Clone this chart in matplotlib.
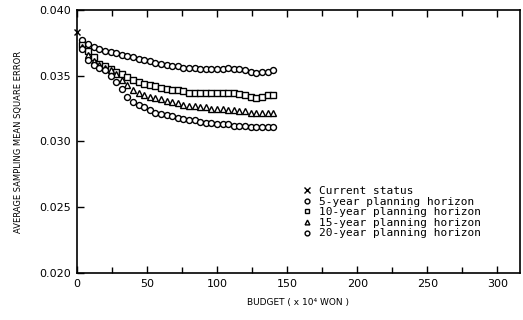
import matplotlib
matplotlib.use('Agg')
import matplotlib.pyplot as plt
from matplotlib.ticker import MultipleLocator

# budget (x 10^4 won) shared by all planning horizons
budget = [4, 8, 12, 16, 20, 24, 28, 32, 36, 40, 44, 48, 52, 56, 60, 64, 68, 72,
          76, 80, 84, 88, 92, 96, 100, 104, 108, 112, 116, 120, 124, 128, 132, 136, 140]

current_x = [0]
current_y = [0.0383]

err_5yr = [0.0377, 0.0374, 0.0372, 0.0370, 0.0369, 0.0368, 0.0367, 0.0366, 0.0365, 0.0364,
           0.0363, 0.0362, 0.0361, 0.0360, 0.0359, 0.0358, 0.0357, 0.0357, 0.0356, 0.0356,
           0.0356, 0.0355, 0.0355, 0.0355, 0.0355, 0.0355, 0.0356, 0.0355, 0.0355, 0.0354,
           0.0353, 0.0352, 0.0353, 0.0353, 0.0354]
err_10yr = [0.0373, 0.0369, 0.0364, 0.0359, 0.0357, 0.0355, 0.0353, 0.0351, 0.0349, 0.0347,
            0.0345, 0.0344, 0.0343, 0.0342, 0.0341, 0.0340, 0.0339, 0.0339, 0.0338, 0.0337,
            0.0337, 0.0337, 0.0337, 0.0337, 0.0337, 0.0337, 0.0337, 0.0337, 0.0336, 0.0335,
            0.0334, 0.0333, 0.0334, 0.0335, 0.0335]
err_15yr = [0.0372, 0.0366, 0.0361, 0.0358, 0.0356, 0.0354, 0.0351, 0.0347, 0.0343, 0.0339,
            0.0337, 0.0335, 0.0334, 0.0333, 0.0332, 0.0331, 0.0330, 0.0329, 0.0328, 0.0327,
            0.0327, 0.0326, 0.0326, 0.0325, 0.0325, 0.0325, 0.0324, 0.0324, 0.0323, 0.0323,
            0.0322, 0.0322, 0.0322, 0.0322, 0.0322]
err_20yr = [0.0370, 0.0362, 0.0358, 0.0356, 0.0354, 0.0350, 0.0345, 0.0340, 0.0334, 0.0330,
            0.0328, 0.0326, 0.0324, 0.0322, 0.0321, 0.0320, 0.0319, 0.0318, 0.0317, 0.0316,
            0.0316, 0.0315, 0.0314, 0.0314, 0.0313, 0.0313, 0.0313, 0.0312, 0.0312, 0.0312,
            0.0311, 0.0311, 0.0311, 0.0311, 0.0311]

labels = ['Current status', '5-year planning horizon', '10-year planning horizon',
          '15-year planning horizon', '20-year planning horizon']

fig = plt.figure(figsize=(5.23, 3.20), dpi=100)
ax = fig.add_axes([0.147, 0.147, 0.847, 0.822])

mk = dict(linestyle='none', markerfacecolor='white', markeredgecolor='black',
          markeredgewidth=1.0, markersize=4.3)
ax.plot(current_x, current_y, marker='x', color='black', linestyle='none',
        markersize=5, label=labels[0], clip_on=False, zorder=5)
ax.plot(budget, err_5yr, marker='o', label=labels[1], **mk)
ax.plot(budget, err_10yr, marker='s', label=labels[2], **mk)
ax.plot(budget, err_15yr, marker='^', label=labels[3], **mk)
ax.plot(budget, err_20yr, marker='o', label=labels[4], **mk)

ax.set_xlim(0, 316)
ax.set_ylim(0.020, 0.040)
ax.xaxis.set_major_locator(MultipleLocator(50))
ax.xaxis.set_minor_locator(MultipleLocator(25))
ax.set_yticks([0.020, 0.025, 0.030, 0.035, 0.040])
ax.set_yticklabels(['0.020', '0.025', '0.030', '0.035', '0.040'])
ax.tick_params(axis='both', which='both', direction='in', top=True, right=False,
               labelsize=8, pad=4)
ax.tick_params(axis='both', which='major', length=5, width=1)
ax.tick_params(axis='both', which='minor', length=4, width=1)
for s in ax.spines.values():
    s.set_linewidth(1.2)

ax.set_xlabel('BUDGET ( x 10\u2074 WON )', fontsize=6.5, labelpad=7)
ax.set_ylabel('AVERAGE SAMPLING MEAN SQUARE ERROR', fontsize=6, labelpad=12)

leg = ax.legend(loc='lower left', bbox_to_anchor=(0.5, 0.11), frameon=False,
                prop={'family': 'DejaVu Sans Mono', 'size': 8},
                handlelength=0.6, handletextpad=0.8, labelspacing=0.05,
                borderpad=0, markerscale=0.8)

fig.savefig('out.png', dpi=100)
